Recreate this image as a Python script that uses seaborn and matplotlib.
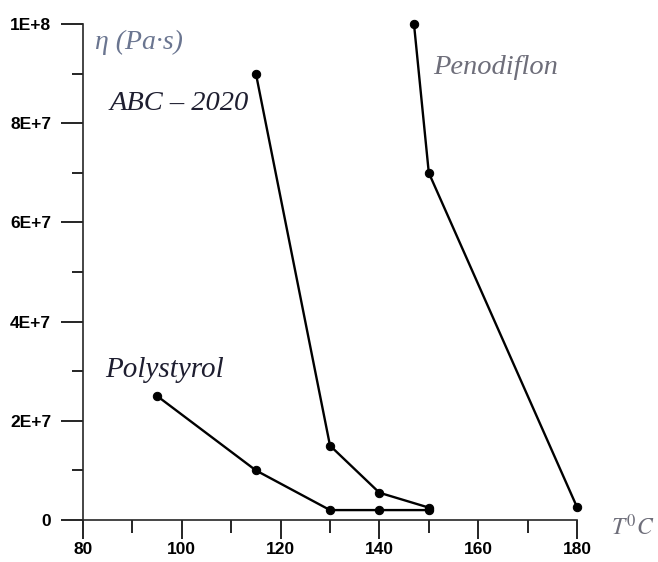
import matplotlib
matplotlib.use("Agg")
import matplotlib.pyplot as plt
import seaborn as sns
import pandas as pd
from matplotlib.ticker import MultipleLocator

# Data
poly_T = [95, 115, 130, 140, 150]
poly_eta = [2.5e7, 1.0e7, 2.0e6, 2.0e6, 2.0e6]
abc_T = [115, 130, 140, 150]
abc_eta = [9.0e7, 1.5e7, 5.5e6, 2.5e6]
peno_T = [147, 150, 180]
peno_eta = [1.0e8, 7.0e7, 2.6e6]

x_ticks = [80, 100, 120, 140, 160, 180]
y_ticks = [0, 2e7, 4e7, 6e7, 8e7, 1e8]
y_labels = ["0", "2E+7", "4E+7", "6E+7", "8E+7", "1E+8"]

sns.set_theme(style="ticks")
plt.rcParams['font.family'] = ['Liberation Sans', 'DejaVu Sans']

fig = plt.figure(figsize=(6.58, 5.62), dpi=100)
ax = fig.add_axes([83/658, 1-520/562, (577-83)/658, (520-24)/562])

for T, eta in [(poly_T, poly_eta), (abc_T, abc_eta), (peno_T, peno_eta)]:
    df = pd.DataFrame({"T": T, "eta": eta})
    sns.lineplot(data=df, x="T", y="eta", ax=ax, color="black", lw=1.7,
                 marker="o", markersize=6, markeredgecolor="black",
                 sort=False, clip_on=False)

ax.set_xlim(80, 180)
ax.set_ylim(0, 1e8)
ax.set_xticks(x_ticks)
ax.set_xticklabels([str(v) for v in x_ticks])
ax.set_yticks(y_ticks)
ax.set_yticklabels(y_labels)
ax.xaxis.set_minor_locator(MultipleLocator(10))
ax.yaxis.set_minor_locator(MultipleLocator(1e7))
ax.tick_params(axis="both", which="both", direction="out", width=1.2,
               labelsize=12.5, colors="black")
for lab in ax.get_xticklabels() + ax.get_yticklabels():
    lab.set_fontweight("bold")
ax.tick_params(axis="x", which="major", length=14, pad=2)
ax.tick_params(axis="x", which="minor", length=9)
ax.tick_params(axis="y", which="major", length=16, pad=7)
ax.tick_params(axis="y", which="minor", length=8)
sns.despine(ax=ax)
ax.spines["left"].set_linewidth(1.2)
ax.spines["bottom"].set_linewidth(1.2)
ax.set_xlabel("")
ax.set_ylabel("")

serif = ['Liberation Serif', 'DejaVu Serif']
fig.text(95/658, 1-42/562, "η (Pa·s)", family=serif, style="italic",
         fontsize=20, color="#6a7590", va="center", ha="left")
fig.text(110/658, 1-104/562, "ABC – 2020", family=serif, style="italic",
         fontsize=20.5, color="#1e1e30", va="center", ha="left")
fig.text(433/658, 1-67/562, "Penodiflon", family=serif, style="italic",
         fontsize=20.5, color="#6e6e7a", va="center", ha="left")
fig.text(105/658, 1-370/562, "Polystyrol", family=serif, style="italic",
         fontsize=21, color="#1e1e30", va="center", ha="left")
fig.text(611/658, 1-527/562, r"$\mathit{T}^{\mathit{0}}\mathit{C}$", fontsize=17,
         color="#6e6e7a", va="center", ha="left",
         math_fontfamily="stix")

fig.savefig("out.png", dpi=100)
